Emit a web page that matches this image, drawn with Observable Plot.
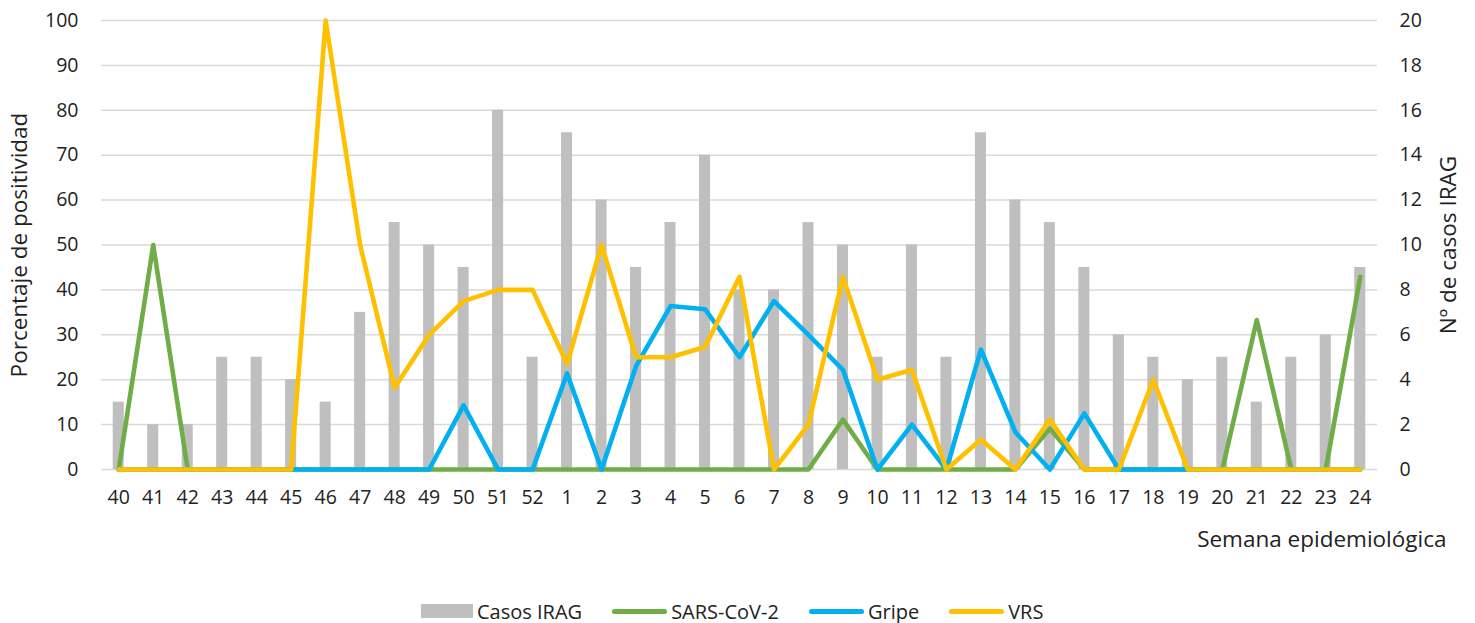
<!DOCTYPE html>
<html>
<head>
<meta charset="utf-8">
<script src="https://cdn.jsdelivr.net/npm/d3@7"></script>
<script src="https://cdn.jsdelivr.net/npm/@observablehq/plot@0.6"></script>
<style>
  html, body { margin: 0; padding: 0; background: #fff; }
  #wrap { position: relative; width: 1475px; height: 623px; font-family: 'Open Sans', sans-serif; color: #222; }
  #legend { position: absolute; left: 421px; top: 597px; height: 28px; display: flex; align-items: center; font-size: 20px; white-space: nowrap; }
  .item { display: flex; align-items: center; margin-right: 30px; }
  .sw { display: inline-block; margin-right: 4px; }
</style>
</head>
<body>
<div id="wrap">
  <div id="chart"></div>
  <div id="legend"></div>
</div>
<script>
const weeks = ["40","41","42","43","44","45","46","47","48","49","50","51","52",
               "1","2","3","4","5","6","7","8","9","10","11","12","13","14","15","16","17","18","19","20","21","22","23","24"];
const casosIRAG = [3,2,2,5,5,4,3,7,11,10,9,16,5,
                   15,12,9,11,14,8,8,11,10,5,10,5,15,12,11,9,6,5,4,5,3,5,6,9];
const sarsCov2 = [0,50,0,0,0,0,0,0,0,0,0,0,0,
                  0,0,0,0,0,0,0,0,11.1,0,0,0,0,0,9.1,0,0,0,0,0,33.3,0,0,42.9];
const gripe = [0,0,0,0,0,0,0,0,0,0,14.3,0,0,
               21.4,0,23,36.4,35.7,25,37.5,30,22.2,0,10,0,26.7,8.3,0,12.5,0,0,0,0,0,0,0,0];
const vrs = [0,0,0,0,0,0,100,50,18.2,30,37.5,40,40,
             23.5,50,25,25,27.3,42.9,0,10,42.9,20,22.2,0,6.7,0,11.1,0,0,20,0,0,0,0,0,0];
const leftTicks = [0,10,20,30,40,50,60,70,80,90,100];
const rightTicks = [0,2,4,6,8,10,12,14,16,18,20];
const seriesNames = ["Casos IRAG","SARS-CoV-2","Gripe","VRS"];
const seriesColors = ["#bfbfbf","#70ad47","#00b0f0","#ffc000"];

const casesToPct = 100 / rightTicks[rightTicks.length - 1];
const rows = weeks.map((w, i) => ({week: w, casos: casosIRAG[i], sars: sarsCov2[i], gripe: gripe[i], vrs: vrs[i]}));
const lineOpts = {x: "week", strokeWidth: 4.6, strokeLinejoin: "round", strokeLinecap: "round"};

const chart = Plot.plot({
  width: 1475,
  height: 580,
  marginLeft: 101,
  marginRight: 98,
  marginTop: 20,
  marginBottom: 111,
  style: {fontFamily: "'Open Sans', sans-serif", fontSize: "19.5px", color: "#222", background: "#fff"},
  x: {type: "band", domain: weeks, paddingInner: 0.68, paddingOuter: 0.34, round: false},
  y: {domain: [0, 100]},
  marks: [
    Plot.gridY(leftTicks, {stroke: "#d9d9d9", strokeOpacity: 1, strokeWidth: 1.5}),
    Plot.barY(rows, {x: "week", y: d => d.casos * casesToPct, fill: seriesColors[0]}),
    Plot.line(rows, {...lineOpts, y: "sars", stroke: seriesColors[1]}),
    Plot.line(rows, {...lineOpts, y: "gripe", stroke: seriesColors[2]}),
    Plot.line(rows, {...lineOpts, y: "vrs", stroke: seriesColors[3]}),
    Plot.axisX({tickSize: 0, tickPadding: 21, label: null}),
    Plot.axisY(leftTicks, {anchor: "left", tickSize: 0, tickPadding: 23, label: null}),
    Plot.axisY(rightTicks.map(t => t * casesToPct), {anchor: "right", tickSize: 0, tickPadding: 22, tickFormat: d => d / casesToPct, label: null}),
    Plot.text(["Porcentaje de positividad"], {text: d => d, frameAnchor: "left", rotate: -90, dx: -82, fontSize: 22.5, textAnchor: "middle", lineAnchor: "middle"}),
    Plot.text(["Nº de casos IRAG"], {text: d => d, frameAnchor: "right", rotate: -90, dx: 71, fontSize: 22.5, textAnchor: "middle", lineAnchor: "middle"}),
    Plot.text(["Semana epidemiológica"], {text: d => d, frameAnchor: "bottom-right", dx: 69, dy: 70, fontSize: 22.5, textAnchor: "end", lineAnchor: "middle"})
  ]
});
document.getElementById("chart").appendChild(chart);

const legend = document.getElementById("legend");
seriesNames.forEach((name, i) => {
  const item = document.createElement("div");
  item.className = "item";
  const sw = document.createElement("span");
  sw.className = "sw";
  if (i === 0) {
    sw.style.cssText = `width:52px;height:14px;background:${seriesColors[i]};`;
  } else {
    sw.style.cssText = `width:55px;height:5px;border-radius:3px;background:${seriesColors[i]};`;
  }
  const label = document.createElement("span");
  label.textContent = name;
  item.appendChild(sw);
  item.appendChild(label);
  legend.appendChild(item);
});
</script>
</body>
</html>
